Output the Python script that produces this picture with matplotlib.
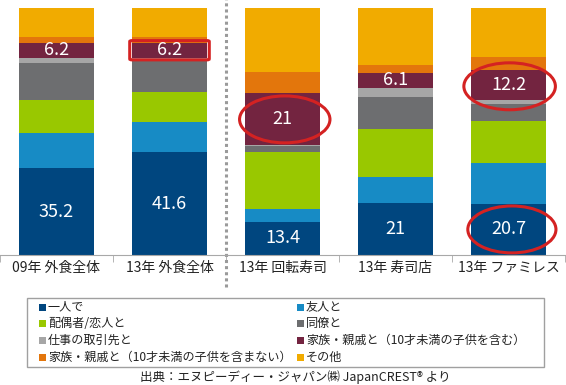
import numpy as np
import matplotlib
matplotlib.use('Agg')
import matplotlib.pyplot as plt
from matplotlib.patches import Ellipse, FancyBboxPatch, Rectangle

plt.rcParams['font.family'] = ['Noto Sans CJK JP', 'DejaVu Sans']

# categories (x axis)
categories = ['09年 外食全体', '13年 外食全体', '13年 回転寿司', '13年 寿司店', '13年 ファミレス']

# series, bottom to top (percent share)
series_names = ['一人で', '友人と', '配偶者/恋人と', '同僚と', '仕事の取引先と',
                '家族・親戚と（10才未満の子供を含む）', '家族・親戚と（10才未満の子供を含まない）', 'その他']
alone = [35.2, 41.6, 13.4, 21.0, 20.7]
friends = [14.0, 12.4, 5.1, 10.7, 16.7]
partner = [13.5, 12.1, 23.2, 19.3, 17.0]
colleague = [15.0, 12.3, 2.3, 13.1, 6.7]
business = [2.0, 1.4, 0.4, 3.5, 1.6]
family_kids = [6.2, 6.2, 21.0, 6.1, 12.2]
family_nokids = [2.4, 2.3, 8.5, 3.2, 5.3]
other = [11.7, 11.7, 26.1, 23.1, 19.8]

colors = ['#00467f', '#178bc5', '#99c800', '#6d6e70', '#a6a6a6', '#732440', '#e3760c', '#f1ab00']
labelled = {0: alone, 5: family_kids}   # series that carry value labels

source = '出典：エヌピーディー・ジャパン㈱ JapanCREST® より'

fig = plt.figure(figsize=(5.66, 3.85), dpi=100)
W, H = 566, 385
ax = fig.add_axes([0, (H - 255) / H, 565 / W, 247 / H])

data = [alone, friends, partner, colleague, business, family_kids, family_nokids, other]
x = np.arange(len(categories))
bottom = np.zeros(len(categories))
centers = []
for vals, col in zip(data, colors):
    vals = np.array(vals)
    ax.bar(x, vals, bottom=bottom, width=0.664, color=col, linewidth=0)
    centers.append(bottom + vals / 2)
    bottom = bottom + vals

for si, vals in labelled.items():
    for i, v in enumerate(vals):
        txt = ('%g' % v)
        ax.text(x[i], centers[si][i], txt, ha='center', va='center',
                color='white', fontsize=13)

ax.set_xlim(-0.5, len(categories) - 0.5)
ax.set_ylim(0, 100)
for s in ['top', 'left', 'right']:
    ax.spines[s].set_visible(False)
ax.spines['bottom'].set_color('#a8a8a8')
ax.set_yticks([])
ax.set_xticks(x)
ax.set_xticklabels(categories, fontsize=10, color='#222222')
ax.tick_params(axis='x', which='major', length=0, pad=4)
ax.set_xticks(np.arange(-0.5, len(categories)), minor=True)
ax.tick_params(axis='x', which='minor', length=5, color='#a8a8a8')

# dotted separator between overall and sushi/family restaurants
ax.plot([1.5, 1.5], [-13, 103.5], linestyle=(0, (1, 1)), color='#9a9a9a',
        lw=2.2, clip_on=False)

# red highlight annotations
red = '#d42222'
bw = 0.664
box_y0 = centers[5][1] - family_kids[1] / 2
ax.add_patch(FancyBboxPatch((x[1] - bw / 2 - 0.01, box_y0 - 0.6), bw + 0.02, family_kids[1] + 1.2,
                            boxstyle='round,pad=0.01,rounding_size=0.02', fill=False,
                            edgecolor=red, lw=2.2, clip_on=False,
                            mutation_aspect=20))
ax.add_patch(Ellipse((x[2] + 0.02, centers[5][2]), 0.8, 19,
                     fill=False, edgecolor=red, lw=2.2, clip_on=False))
ax.add_patch(Ellipse((x[4] + 0.01, centers[5][4] - 0.5), 0.81, 19,
                     fill=False, edgecolor=red, lw=2.2, clip_on=False))
ax.add_patch(Ellipse((x[4] + 0.03, centers[0][4]), 0.78, 19,
                     fill=False, edgecolor=red, lw=2.2, clip_on=False))

# legend: framed box with two columns
fig.patches.append(Rectangle((27 / W, (H - 367) / H), (544 - 27) / W, (367 - 298) / H,
                             transform=fig.transFigure, fill=False,
                             edgecolor='#a0a0a0', lw=1))
order = [0, 2, 4, 6, 1, 3, 5, 7]
col_x = [39, 297]
row_y = [307, 323.5, 340, 357]
for k, si in enumerate(order):
    cx = col_x[k // 4]
    cy = row_y[k % 4]
    fig.patches.append(Rectangle((cx / W, (H - cy - 3.5) / H), 7 / W, 7 / H,
                                 transform=fig.transFigure, color=colors[si], lw=0))
    fig.text((cx + 9) / W, (H - cy) / H, series_names[si], fontsize=8.7,
             va='center', ha='left', color='#222222')

fig.text(295.5 / W, (H - 377) / H, source, fontsize=9, ha='center', va='center',
         color='#222222')

fig.savefig('out.png', dpi=100)
